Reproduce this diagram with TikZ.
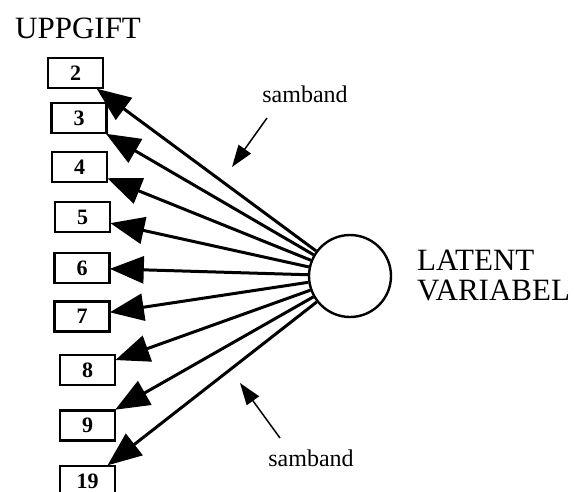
\documentclass[tikz,border=0pt]{standalone}
\usepackage{fontspec}
\setmainfont{Liberation Serif}
\usetikzlibrary{arrows.meta}
\begin{document}
\begin{tikzpicture}[x=1pt,y=-1pt,
  itembox/.style={draw, line width=2.6pt, minimum width=55pt, minimum height=30pt,
    inner sep=0pt, font=\fontsize{22}{24}\selectfont\bfseries},
  latent/.style={draw, circle, line width=2.4pt, minimum size=82pt, inner sep=0pt},
  loading/.style={line width=3pt, -{Triangle[length=34pt,width=27pt]}, shorten >=-1pt},
  pointer/.style={line width=1.5pt, -{Triangle[length=22pt,width=15pt]}},
  caption/.style={font=\fontsize{31}{30}\selectfont, inner sep=0pt},
  note/.style={font=\fontsize{24}{26}\selectfont, inner sep=0pt}]
\useasboundingbox (0,0) rectangle (575,491);
\clip (0,0) rectangle (575,491);

% observed items
\node[itembox] (b2)  at (75.5,73)  {2};
\node[itembox] (b3)  at (79,118)   {3};
\node[itembox] (b4)  at (79.5,167) {4};
\node[itembox] (b5)  at (82.5,217) {5};
\node[itembox] (b6)  at (82,268)   {6};
\node[itembox] (b7)  at (82,316.5) {7};
\node[itembox] (b8)  at (87.5,370) {8};
\node[itembox] (b9)  at (87.5,425.5) {9};
\node[itembox] (b19) at (87.5,481) {19};

% latent variable
\node[latent] (lv) at (350,276) {};

% labels
\node[caption, anchor=base west] (upp) at (15,38) {UPPGIFT};
\node[caption, anchor=base west] (lat1) at (417,270) {LATENT};
\node[caption, anchor=base west] (lat2) at (417,300) {VARIABEL};
\node[note, anchor=base] (s1) at (305,102) {samband};
\node[note, anchor=base] (s2) at (311,466) {samband};

% loadings
\foreach \b in {b2,b3,b4,b5,b6,b7,b8,b9,b19}
  \draw[loading] (lv) -- (\b);

% pointers to the connectors
\coordinate (s1tail) at (267,118);
\coordinate (s1tip)  at (232,167);
\coordinate (s2tail) at (280,438);
\coordinate (s2tip)  at (240,383);
\draw[pointer] (s1tail) -- (s1tip);
\draw[pointer] (s2tail) -- (s2tip);
\end{tikzpicture}
\end{document}
